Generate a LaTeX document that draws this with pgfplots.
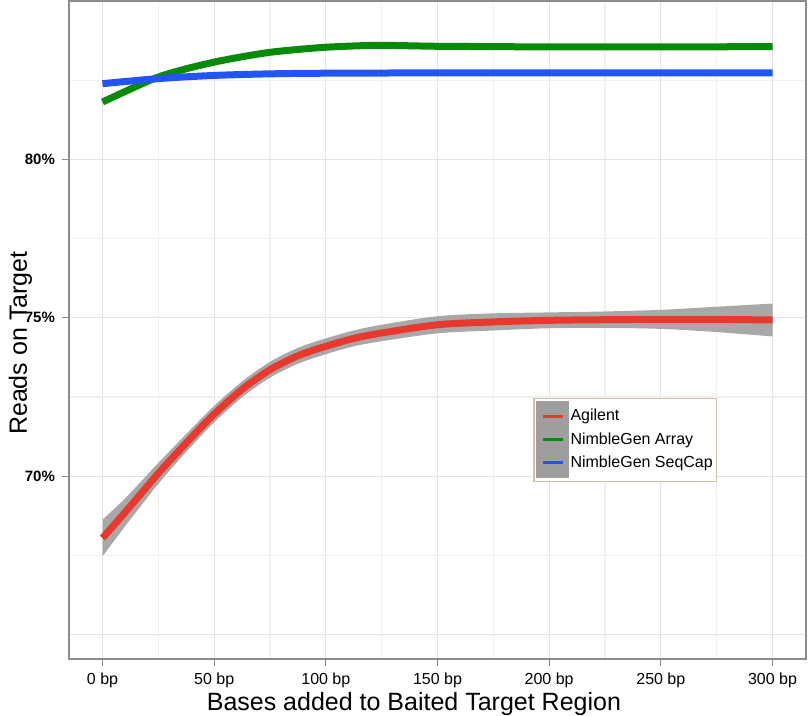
\documentclass[border=0pt]{standalone}
\usepackage{fontspec}
\setmainfont{Liberation Sans}
\usepackage{pgfplots}
\usepackage{pgfplotstable}
\usepgfplotslibrary{fillbetween}
\pgfplotsset{compat=1.18}

\definecolor{agilent}{HTML}{E8392E}
\definecolor{nimarray}{HTML}{0A8A0A}
\definecolor{nimseq}{HTML}{2255F5}
\definecolor{ribbon}{HTML}{A8A8A8}
\definecolor{frame}{HTML}{8C8C8C}
\definecolor{legframe}{HTML}{CFC29C}

% smoothed reads-on-target curves (bp, percent) and CI half-width
\pgfplotstableread{
bp   y      ci
0    68.05  0.58
10   68.85  0.44
25   70.09  0.33
37.5 71.05  0.28
50   71.96  0.26
62.5 72.74  0.25
75   73.36  0.25
87.5 73.80  0.25
100  74.10  0.25
112.5 74.35 0.25
125  74.52  0.26
150  74.78  0.27
175  74.87  0.27
200  74.92  0.25
225  74.94  0.26
250  74.95  0.30
275  74.95  0.40
300  74.93  0.52
}\agilent

\begin{document}
\begin{tikzpicture}
\begin{axis}[
  name=main,
  scale only axis,
  width=368.5pt, height=329pt,
  xmin=-15, xmax=315, ymin=64.23, ymax=85,
  axis line style={draw=frame, line width=0.75pt},
  xtick={0,50,100,150,200,250,300},
  xticklabels={0 bp,50 bp,100 bp,150 bp,200 bp,250 bp,300 bp},
  minor xtick={25,75,125,175,225,275},
  ytick={70,75,80},
  yticklabels={70\%,75\%,80\%},
  minor ytick={67.5,72.5,77.5,82.5},
  extra y ticks={65}, extra y tick labels={},
  extra y tick style={grid=major, major tick length=0pt},
  grid=both,
  major grid style={draw=black!11, line width=0.6pt},
  minor grid style={draw=black!6, line width=0.6pt},
  tick align=outside, tick pos=left,
  major tick length=3.5pt, minor tick length=0pt,
  tick style={draw=frame, line width=0.6pt},
  xticklabel style={font=\fontsize{8}{9}\selectfont, text=black},
  yticklabel style={font=\bfseries\fontsize{7.5}{9}\selectfont, text=black},
  xlabel={Bases added to Baited Target Region},
  xlabel style={at={(axis description cs:0.468,-0.0684)}, anchor=center,
    font=\fontsize{12.5}{14}\selectfont},
  ylabel={Reads on Target},
  ylabel style={at={(axis description cs:-0.066,0.48)}, anchor=center,
    font=\fontsize{12.5}{14}\selectfont},
  legend image code/.code={
    \fill[black!38] (0pt,-5.9pt) rectangle (13pt,5.9pt);
    \draw[#1, line width=1.5pt] (1.5pt,0pt) -- (11.5pt,0pt);
  },
  legend style={at={(rel axis cs:0.63,0.397)}, anchor=north west,
    draw=legframe, fill=white, line width=0.6pt,
    font=\fontsize{8}{9}\selectfont, row sep=-3.75pt,
    nodes={inner ysep=0pt, inner xsep=0.6pt},
    inner xsep=1.2pt, inner ysep=1.5pt},
  legend cell align=left,
]
  % confidence band around Agilent
  \addplot[draw=none, name path=up, smooth, forget plot]
    table[x=bp, y expr=\thisrow{y}+\thisrow{ci}] {\agilent};
  \addplot[draw=none, name path=lo, smooth, forget plot]
    table[x=bp, y expr=\thisrow{y}-\thisrow{ci}] {\agilent};
  \addplot[fill=ribbon, draw=none, forget plot] fill between[of=up and lo];

  \addplot[agilent, line width=3.5pt, smooth] table[x=bp, y=y] {\agilent};
  \addlegendentry{Agilent}

  \addplot[nimarray, line width=3.5pt, smooth] coordinates {
    (0,81.81) (12.5,82.22) (25,82.60) (37.5,82.86) (50,83.07) (62.5,83.24)
    (75,83.38) (87.5,83.47) (100,83.54) (112.5,83.58) (125,83.60) (150,83.57)
    (175,83.56) (200,83.55) (250,83.55) (300,83.56)
  };
  \addlegendentry{NimbleGen Array}

  \addplot[nimseq, line width=3.5pt, smooth] coordinates {
    (0,82.39) (25,82.55) (50,82.65) (75,82.70) (100,82.72) (150,82.73)
    (200,82.73) (250,82.73) (300,82.73)
  };
  \addlegendentry{NimbleGen SeqCap}
\end{axis}
\pgfresetboundingbox
\path[use as bounding box] ([xshift=-34.5pt,yshift=-28pt]main.south west)
  rectangle ([xshift=2pt,yshift=0.5pt]main.north east);
\end{tikzpicture}
\end{document}
